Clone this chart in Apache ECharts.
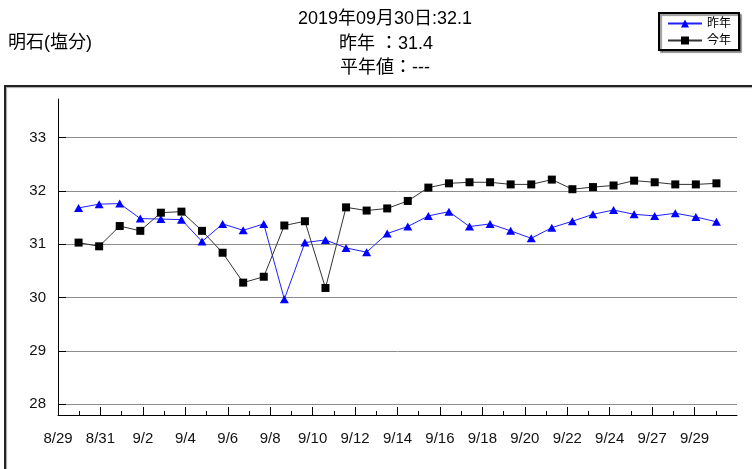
<!DOCTYPE html>
<html>
<head>
<meta charset="utf-8">
<script src="https://cdn.jsdelivr.net/npm/echarts@6/dist/echarts.min.js"></script>
<style>
  html, body { margin: 0; padding: 0; background: #fff; }
  #chart { width: 752px; height: 469px; }
</style>
</head>
<body>
<div id="chart"></div>
<script>
// ---- data ----
const xTickLabels = ['8/29','8/31','9/2','9/4','9/6','9/8','9/10','9/12','9/14','9/16','9/18','9/20','9/22','9/24','9/27','9/29'];
const lastYear = [31.68,31.75,31.76,31.48,31.47,31.46,31.05,31.38,31.26,31.38,29.97,31.03,31.08,30.93,30.85,31.20,31.33,31.53,31.61,31.33,31.38,31.25,31.11,31.31,31.43,31.56,31.64,31.56,31.53,31.58,31.51,31.42];
const thisYear = [31.03,30.96,31.34,31.25,31.59,31.61,31.25,30.84,30.28,30.39,31.35,31.43,30.18,31.69,31.63,31.67,31.81,32.06,32.14,32.16,32.16,32.12,32.12,32.21,32.03,32.07,32.10,32.19,32.16,32.12,32.12,32.14];
const yTickValues = [28, 29, 30, 31, 32, 33];
const seriesNames = ['昨年', '今年'];
const stationName = '明石(塩分)';
const headerLines = ['2019年09月30日:32.1', '昨年 ：31.4', '平年値：---'];

const FONT = '"Liberation Sans", "Noto Sans CJK JP", sans-serif';
const chart = echarts.init(document.getElementById('chart'), null, { renderer: 'canvas' });

const toPairs = arr => arr.map((v, i) => [i + 1, v]);
const xTickValues = xTickLabels.map((_, i) => i * 2);

chart.setOption({
  animation: false,
  backgroundColor: '#ffffff',
  graphic: [
    { type: 'rect', z: -10, silent: true,
      shape: { x: 5, y: 86, width: 800, height: 420 },
      style: { fill: 'none', stroke: '#222', lineWidth: 2, shadowColor: 'rgba(0,0,0,0.35)', shadowOffsetX: 1, shadowOffsetY: 1, shadowBlur: 1 } },
    { type: 'text', x: 8, y: 43,
      style: { text: stationName, font: '18px ' + FONT, fill: '#000', textVerticalAlign: 'middle' } },
    { type: 'text', x: 385, y: 19,
      style: { text: headerLines[0], font: '18px ' + FONT, fill: '#000', textAlign: 'center', textVerticalAlign: 'middle' } },
    { type: 'text', x: 386, y: 44,
      style: { text: headerLines[1], font: '18px ' + FONT, fill: '#000', textAlign: 'center', textVerticalAlign: 'middle' } },
    { type: 'text', x: 385, y: 68,
      style: { text: headerLines[2], font: '18px ' + FONT, fill: '#000', textAlign: 'center', textVerticalAlign: 'middle' } }
  ],
  legend: {
    data: seriesNames,
    orient: 'vertical',
    left: 659, top: 13,
    padding: [4, 8, 3, 8],
    itemWidth: 34, itemHeight: 10, itemGap: 4,
    backgroundColor: '#fff',
    borderColor: '#000', borderWidth: 2, borderRadius: 0,
    shadowColor: 'rgba(0,0,0,0.4)', shadowOffsetX: 2, shadowOffsetY: 2, shadowBlur: 1,
    textStyle: { fontSize: 12, fontFamily: FONT, color: '#000', lineHeight: 13 }
  },
  grid: { left: 58, right: 15, top: 99, bottom: 54, containLabel: false, outerBoundsMode: 'none' },
  xAxis: [
    { type: 'value', min: 0, max: 33, show: false },
    { type: 'value', min: 0, max: 32, interval: 2, position: 'bottom',
      axisLine: { show: true, lineStyle: { color: '#000', width: 1 } },
      axisTick: { show: true, inside: true, length: 8, lineStyle: { color: '#000' }, customValues: xTickValues },
      minorTick: { show: true, splitNumber: 2, length: 4, lineStyle: { color: '#000' } },
      splitLine: { show: false },
      axisLabel: { margin: 16, fontSize: 15, fontFamily: FONT, color: '#111', customValues: xTickValues,
        formatter: v => (xTickLabels[Math.round(v / 2)] || '') } }
  ],
  yAxis: {
    type: 'value', min: 27.8, max: 33.72,
    axisLine: { show: true, lineStyle: { color: '#000', width: 1 } },
    axisTick: { show: true, inside: true, length: 8, lineStyle: { color: '#000' }, customValues: yTickValues },
    axisLabel: { margin: 12, fontSize: 15, fontFamily: FONT, color: '#111', customValues: yTickValues },
    splitLine: { show: true, lineStyle: { color: '#8c8c8c', width: 1 } }
  },
  series: [
    { name: seriesNames[0], type: 'line', xAxisIndex: 0, data: toPairs(lastYear),
      symbol: 'triangle', symbolSize: [9, 8], showAllSymbol: true,
      lineStyle: { color: '#2020ff', width: 1 },
      itemStyle: { color: '#0000ff' } },
    { name: seriesNames[1], type: 'line', xAxisIndex: 0, data: toPairs(thisYear),
      symbol: 'rect', symbolSize: 8, showAllSymbol: true,
      lineStyle: { color: '#333', width: 1 },
      itemStyle: { color: '#000' } }
  ]
});
</script>
</body>
</html>
